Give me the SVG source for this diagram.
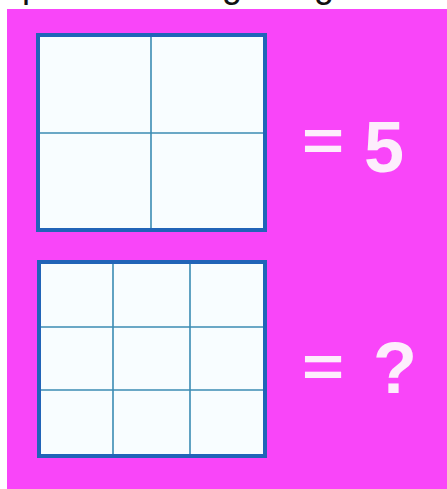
<svg xmlns="http://www.w3.org/2000/svg" width="447" height="489" viewBox="0 0 447 489">
<style>
.frame{fill:#f8fdff;stroke:#2164b8;stroke-width:4}
.grid{stroke:#3b8cb4;stroke-width:1.6;fill:none}
.t{font-family:"Liberation Sans",Arial,sans-serif;font-weight:bold;font-size:72px;fill:#fdeefc}
.cut{font-family:"Liberation Sans",Arial,sans-serif;font-size:36px;fill:#111}
</style>
<rect x="0" y="0" width="447" height="489" fill="#ffffff"/>
<text class="cut" x="22" y="-3">p</text>
<text class="cut" x="222" y="-3">g</text>
<text class="cut" x="314" y="-3">g</text>
<rect x="7" y="9" width="440" height="480" fill="#f945f9"/>
<g id="box-2x2">
<rect class="frame" x="38" y="35" width="227" height="195"/>
<path class="grid" d="M151 37V228M40 133H263"/>
</g>
<g id="box-3x3">
<rect class="frame" x="39" y="262" width="226" height="194"/>
<path class="grid" d="M113 264V454M190 264V454M41 327H263M41 390H263"/>
</g>
<g id="label-top">
<text class="t" transform="translate(302,160) scale(1,0.8)">=</text>
<text class="t" x="364" y="172">5</text>
</g>
<g id="label-bottom">
<text class="t" transform="translate(302,386) scale(1,0.8)">=</text>
<text class="t" x="373" y="393">?</text>
</g>
<g id="connectors"/>
</svg>
